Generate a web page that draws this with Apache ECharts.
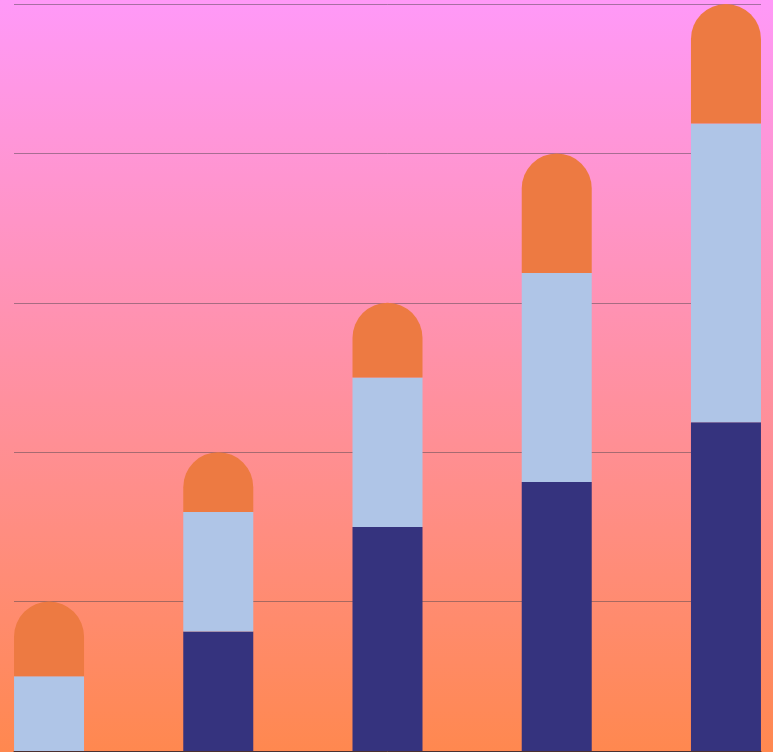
<!DOCTYPE html>
<html>
<head>
<meta charset="utf-8">
<script src="https://cdn.jsdelivr.net/npm/echarts@6/dist/echarts.min.js"></script>
<style>html,body{margin:0;padding:0;}#c{width:773px;height:752px;}</style>
</head>
<body>
<div id="c"></div>
<script>
var categories = [0, 1, 2, 3, 4];
var navyValues = [0, 0.8, 1.5, 1.8, 2.2];
var blueValues = [0.5, 0.8, 1.0, 1.4, 2.0];
var orangeValues = [0.5, 0.4, 0.5, 0.8, 0.8];

// value first so that stacking is applied on the y value
function pairs(vals) {
  return categories.map(function (c, i) { return [vals[i], c]; });
}

var chart = echarts.init(document.getElementById('c'), null, {renderer: 'canvas'});
chart.setOption({
  animation: false,
  backgroundColor: new echarts.graphic.LinearGradient(0, 0, 0, 1, [
    {offset: 0, color: '#FF99F8'},
    {offset: 1, color: '#FF884F'}
  ]),
  grid: {left: 14, right: 12, top: 4, bottom: 1, containLabel: false},
  xAxis: {
    type: 'value',
    min: -0.207,
    max: 4.207,
    axisLine: {show: true, onZero: false, lineStyle: {color: '#4a3030', width: 1}},
    axisTick: {show: false},
    axisLabel: {show: false},
    splitLine: {show: false}
  },
  yAxis: {
    type: 'value',
    min: 0,
    max: 5,
    interval: 1,
    axisLine: {show: false},
    axisTick: {show: false},
    axisLabel: {show: false},
    splitLine: {show: true, lineStyle: {color: 'rgba(80,70,80,0.5)', width: 1}}
  },
  series: [
    {type: 'bar', stack: 's', barWidth: 70, encode: {x: 1, y: 0}, data: pairs(navyValues), itemStyle: {color: '#35337E'}},
    {type: 'bar', stack: 's', barWidth: 70, encode: {x: 1, y: 0}, data: pairs(blueValues), itemStyle: {color: '#AFC5E7'}},
    {type: 'bar', stack: 's', barWidth: 70, encode: {x: 1, y: 0}, data: pairs(orangeValues), itemStyle: {color: '#ED7A42', borderRadius: [35, 35, 0, 0]}}
  ]
});
</script>
</body>
</html>
